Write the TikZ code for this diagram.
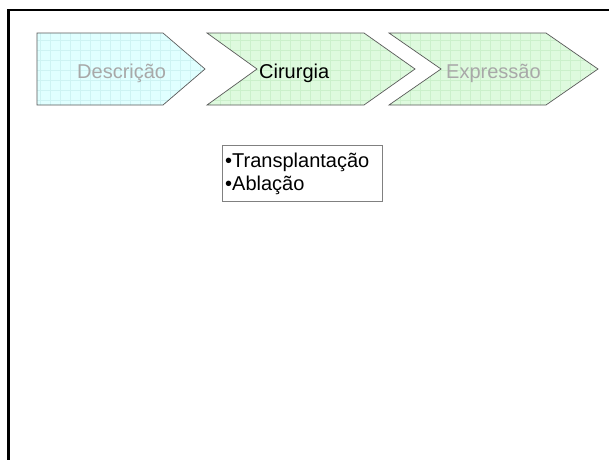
\documentclass[tikz,border=0pt]{standalone}
\usepackage{fontspec}
\setmainfont{Liberation Sans}
\begin{document}
\begin{tikzpicture}[x=1pt,y=-1pt]
\definecolor{cyanfill}{HTML}{E0FFFF}
\definecolor{cyangrid}{HTML}{CDF3F3}
\definecolor{greenfill}{HTML}{DEFADE}
\definecolor{greengrid}{HTML}{CBF0CB}
\definecolor{edgecol}{HTML}{5A5A5A}
\definecolor{dimtext}{HTML}{A8A8A8}
\tikzset{
  shapeedge/.style={draw=edgecol, line width=0.7pt, line join=miter},
  gridlines/.style={line width=0.4pt},
  lbl/.style={font=\fontsize{20}{23}\selectfont, inner sep=0pt, anchor=base west},
  boxedge/.style={draw=gray, line width=0.8pt}
}
\useasboundingbox (0,0) rectangle (609,459);
\fill[white] (0,0) rectangle (609,459);
\draw[line width=2.5pt] (8.5,470) -- (8.5,10) -- (620,10);

% Descricao (pentagon)
\fill[cyanfill] (37,33) -- (163,33) -- (205,69) -- (163,105) -- (37,105) -- cycle;
\begin{scope}
\clip (37,33) -- (163,33) -- (205,69) -- (163,105) -- (37,105) -- cycle;
\foreach \gx in {40,50,...,210} \draw[cyangrid, gridlines] (\gx,30) -- (\gx,110);
\foreach \gy in {40,50,...,100} \draw[cyangrid, gridlines] (30,\gy) -- (220,\gy);
\end{scope}
\draw[shapeedge] (37,33) -- (163,33) -- (205,69) -- (163,105) -- (37,105) -- cycle;

% Cirurgia (chevron)
\fill[greenfill] (207,33) -- (364,33) -- (415,69) -- (364,105) -- (207,105) -- (257,69) -- cycle;
\begin{scope}
\clip (207,33) -- (364,33) -- (415,69) -- (364,105) -- (207,105) -- (257,69) -- cycle;
\foreach \gx in {210,220,...,420} \draw[greengrid, gridlines] (\gx,30) -- (\gx,110);
\foreach \gy in {40,50,...,100} \draw[greengrid, gridlines] (200,\gy) -- (420,\gy);
\end{scope}
\draw[shapeedge] (207,33) -- (364,33) -- (415,69) -- (364,105) -- (207,105) -- (257,69) -- cycle;

% Expressao (chevron)
\fill[greenfill] (389,33) -- (546,33) -- (598,69) -- (546,105) -- (389,105) -- (441,69) -- cycle;
\begin{scope}
\clip (389,33) -- (546,33) -- (598,69) -- (546,105) -- (389,105) -- (441,69) -- cycle;
\foreach \gx in {390,400,...,600} \draw[greengrid, gridlines] (\gx,30) -- (\gx,110);
\foreach \gy in {40,50,...,100} \draw[greengrid, gridlines] (380,\gy) -- (600,\gy);
\end{scope}
\draw[shapeedge] (389,33) -- (546,33) -- (598,69) -- (546,105) -- (389,105) -- (441,69) -- cycle;

\node[lbl, text=dimtext] (desc) at (77,78) {Descrição};
\node[lbl] (cir) at (259,78) {Cirurgia};
\node[lbl, text=dimtext] (expr) at (446,78) {Expressão};

% text box
\draw[boxedge] (222,145) rectangle (382,201);
\node[lbl] (t1) at (225,167) {•Transplantação};
\node[lbl] (t2) at (225,190) {•Ablação};
\end{tikzpicture}
\end{document}
